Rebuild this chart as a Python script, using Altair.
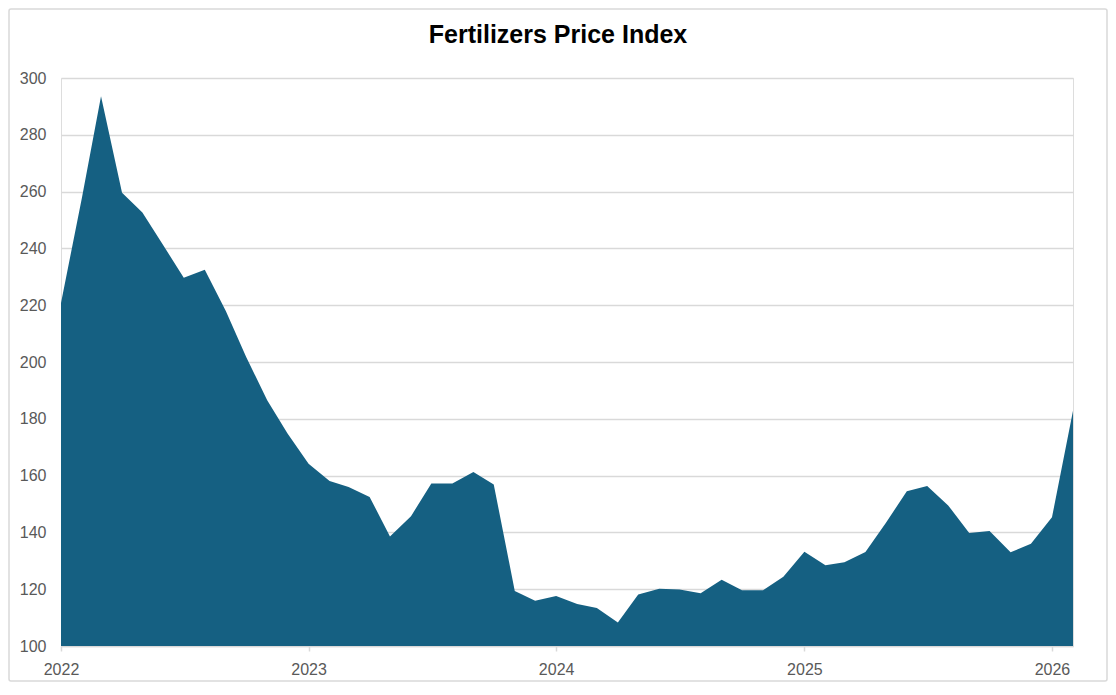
import altair as alt
import pandas as pd

TITLE = "Fertilizers Price Index"

# Monthly values, Jan 2022 - Feb 2026
months = [f"{y}-{m:02d}-01" for y in range(2022, 2027) for m in range(1, 13)][:50]
values = [
    220.8, 258.0, 293.6, 259.6, 252.6, 241.0, 229.7, 232.5, 218.0, 201.8, 186.5, 174.8,  # 2022
    164.2, 158.1, 156.0, 152.5, 138.6, 145.7, 157.2, 157.2, 161.3, 156.9, 119.4, 115.9,  # 2023
    117.6, 114.8, 113.4, 108.3, 118.1, 120.2, 119.9, 118.6, 123.3, 119.6, 119.6, 124.4,  # 2024
    133.2, 128.4, 129.5, 133.1, 143.3, 154.5, 156.3, 149.5, 139.8, 140.5, 133.0, 136.0,  # 2025
    145.3, 182.8,                                                                        # 2026
]
year_ticks = [2022, 2023, 2024, 2025, 2026]
y_ticks = [100, 120, 140, 160, 180, 200, 220, 240, 260, 280, 300]

df = pd.DataFrame({"date": months, "index": values})

W, H = 1012, 568
PAD_L, PAD_T, PAD_R, PAD_B = 53, 70, 35, 36

x_enc = alt.X(
    "date:T",
    scale=alt.Scale(
        domain=[alt.DateTime(year=2022, month=1, date=1),
                alt.DateTime(year=2026, month=2, date=1)],
        nice=False,
    ),
    axis=alt.Axis(
        values=[alt.DateTime(year=t, month=1, date=1) for t in year_ticks],
        format="%Y",
        title=None,
        grid=False,
        domainColor="#D9D9D9",
        domainWidth=1.5,
        tickColor="#D9D9D9",
        tickWidth=1.5,
        tickSize=5,
        labelColor="#595959",
        labelFont="Liberation Sans",
        labelFontSize=16,
        labelPadding=10,
        labelFlush=False,
        labelOverlap=False,
    ),
)

area = alt.Chart(df).mark_area(color="#156082", opacity=1).encode(
    x=x_enc,
    y=alt.Y(
        "index:Q",
        scale=alt.Scale(domain=[100, 300], nice=False, zero=False),
        axis=alt.Axis(
            values=y_ticks,
            title=None,
            domain=False,
            ticks=False,
            gridColor="#D9D9D9",
            gridWidth=1.4,
            labelColor="#595959",
            labelFont="Liberation Sans",
            labelFontSize=16,
            labelPadding=15,
        ),
    ),
    y2=alt.datum(100),
)

one = pd.DataFrame({"t": [TITLE]})

frame = alt.Chart(one).mark_rect(
    fill=None, stroke="#D9D9D9", strokeWidth=1.5, cornerRadius=2
).encode(
    x=alt.value(-PAD_L + 1),
    x2=alt.value(W + PAD_R - 1),
    y=alt.value(-PAD_T + 1),
    y2=alt.value(H + PAD_B - 1),
)

title = alt.Chart(one).mark_text(
    font="Liberation Sans",
    fontSize=25,
    fontWeight="bold",
    color="#000000",
    align="center",
    baseline="alphabetic",
).encode(
    text="t:N",
    x=alt.value(W / 2 - 9),
    y=alt.value(-35),
)

chart = alt.layer(area, frame, title).properties(
    width=W,
    height=H,
    autosize=alt.AutoSizeParams(type="none"),
    padding={"left": PAD_L, "top": PAD_T, "right": PAD_R, "bottom": PAD_B},
).configure_view(stroke=None).configure(background="white")

chart.save("out.html", embed_options={"renderer": "svg", "actions": False})
